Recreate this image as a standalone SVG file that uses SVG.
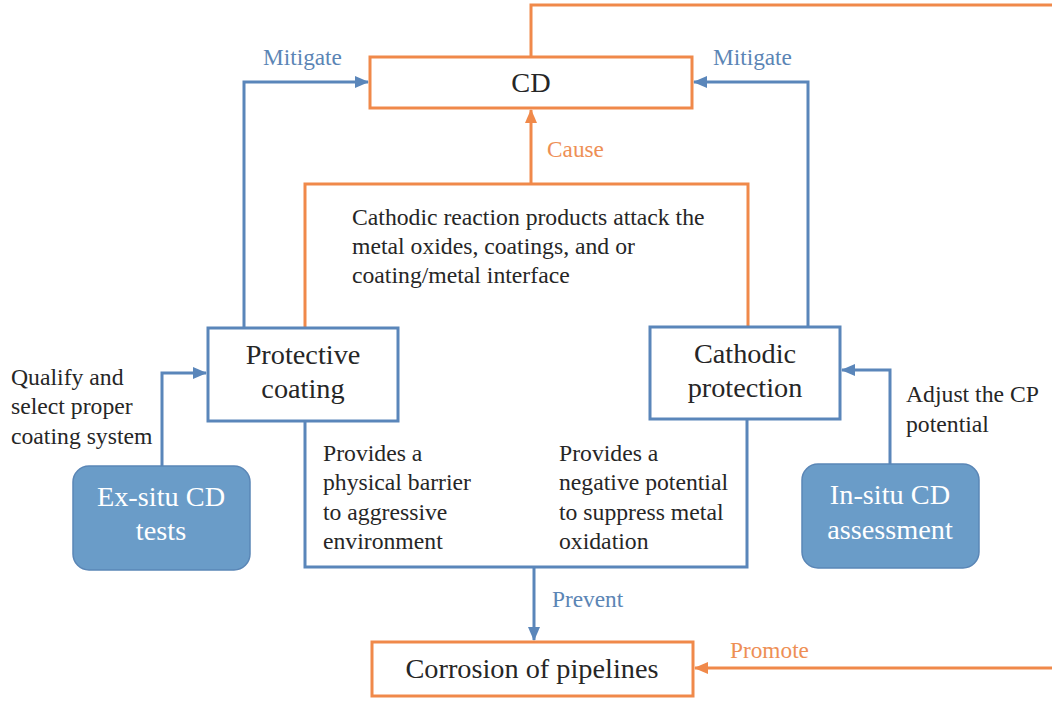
<svg xmlns="http://www.w3.org/2000/svg" width="1052" height="704" viewBox="0 0 1052 704">
<defs>
<style>
.ob{fill:#fff;stroke:#F0894A;stroke-width:3}
.bb{fill:#fff;stroke:#5A86BA;stroke-width:3}
.fb{fill:#6A9CC8;stroke:#5A86B6;stroke-width:1.5}
.ol{fill:none;stroke:#F0894A;stroke-width:3}
.bl{fill:none;stroke:#5A86BA;stroke-width:3}
text{font-family:"Liberation Serif","Times New Roman",serif}
.t{fill:#262626;font-size:23.7px}
.tn{fill:#262626;font-size:28.3px;text-anchor:middle}
.tw{fill:#fff;font-size:28.3px;text-anchor:middle}
.lb{fill:#5B85B5;font-size:23.3px}
.lo{fill:#EE8F55;font-size:23.3px}
</style>
<marker id="ao" markerUnits="userSpaceOnUse" markerWidth="14" markerHeight="12" refX="13" refY="6" orient="auto"><path d="M0,0 L14,6 L0,12 Z" fill="#F0894A"/></marker>
<marker id="ab" markerUnits="userSpaceOnUse" markerWidth="14" markerHeight="12" refX="13" refY="6" orient="auto"><path d="M0,0 L14,6 L0,12 Z" fill="#5A86BA"/></marker>
</defs>
<rect width="1052" height="704" fill="#fff"/>
<g id="connectors">
<path class="ol" d="M531,56 V5 H1052"/>
<path class="ol" d="M1052,668 H695" marker-end="url(#ao)"/>
<path class="ol" d="M531,184 V110" marker-end="url(#ao)"/>
<path class="ol" d="M305,328 V184 H748 V327"/>
<path class="bl" d="M244,328 V82 H368" marker-end="url(#ab)"/>
<path class="bl" d="M808,327 V82 H694" marker-end="url(#ab)"/>
<path class="bl" d="M162,466 V373 H206" marker-end="url(#ab)"/>
<path class="bl" d="M890,464 V370 H842" marker-end="url(#ab)"/>
<path class="bl" d="M305,421 V567 H747 V419"/>
<path class="bl" d="M534,567 V640" marker-end="url(#ab)"/>
</g>
<g id="labels">
<text class="lb" x="263" y="65">Mitigate</text>
<text class="lb" x="713" y="65">Mitigate</text>
<text class="lo" x="547" y="157">Cause</text>
<text class="lb" x="552" y="607">Prevent</text>
<text class="lo" x="730" y="658">Promote</text>
<text class="t" x="352" y="225">Cathodic reaction products attack the</text>
<text class="t" x="352" y="254">metal oxides, coatings, and or</text>
<text class="t" x="352" y="283">coating/metal interface</text>
<text class="t" x="11" y="385">Qualify and</text>
<text class="t" x="11" y="414">select proper</text>
<text class="t" x="11" y="444">coating system</text>
<text class="t" x="906" y="402">Adjust the CP</text>
<text class="t" x="906" y="432">potential</text>
<text class="t" x="323" y="461">Provides a</text>
<text class="t" x="323" y="490">physical barrier</text>
<text class="t" x="323" y="520">to aggressive</text>
<text class="t" x="323" y="549">environment</text>
<text class="t" x="559" y="461">Provides a</text>
<text class="t" x="559" y="490">negative potential</text>
<text class="t" x="559" y="520">to suppress metal</text>
<text class="t" x="559" y="549">oxidation</text>
</g>
<g id="cd"><rect class="ob" x="370" y="57" width="322" height="51"/><text class="tn" x="531" y="92">CD</text></g>
<g id="coating"><rect class="bb" x="208" y="328" width="190" height="93"/><text class="tn" x="303" y="364">Protective</text><text class="tn" x="303" y="398">coating</text></g>
<g id="cp"><rect class="bb" x="650" y="327" width="190" height="92"/><text class="tn" x="745" y="363">Cathodic</text><text class="tn" x="745" y="397">protection</text></g>
<g id="exsitu"><rect class="fb" x="73" y="466" width="177" height="104" rx="16"/><text class="tw" x="161" y="506">Ex-situ CD</text><text class="tw" x="161" y="540">tests</text></g>
<g id="insitu"><rect class="fb" x="802" y="464" width="177" height="104" rx="16"/><text class="tw" x="890" y="504">In-situ CD</text><text class="tw" x="890" y="539">assessment</text></g>
<g id="corrosion"><rect class="ob" x="372" y="642" width="321" height="54"/><text class="tn" x="532" y="678">Corrosion of pipelines</text></g>
</svg>
